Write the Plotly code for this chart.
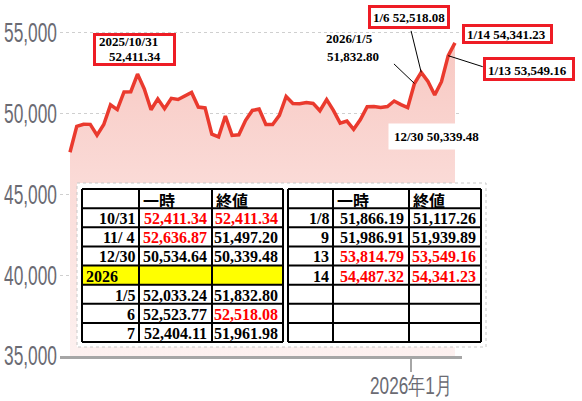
import plotly.graph_objects as go

# ---------------- data ----------------
dates = [
    "2025-10-17", "2025-10-20", "2025-10-21", "2025-10-22", "2025-10-23", "2025-10-24",
    "2025-10-27", "2025-10-28", "2025-10-29", "2025-10-30", "2025-10-31",
    "2025-11-04", "2025-11-05", "2025-11-06", "2025-11-07", "2025-11-10", "2025-11-11",
    "2025-11-12", "2025-11-13", "2025-11-14", "2025-11-17", "2025-11-18", "2025-11-19",
    "2025-11-20", "2025-11-21", "2025-11-25", "2025-11-26", "2025-11-27", "2025-11-28",
    "2025-12-01", "2025-12-02", "2025-12-03", "2025-12-04", "2025-12-05", "2025-12-08",
    "2025-12-09", "2025-12-10", "2025-12-11", "2025-12-12", "2025-12-15", "2025-12-16",
    "2025-12-17", "2025-12-18", "2025-12-19", "2025-12-22", "2025-12-23", "2025-12-24",
    "2025-12-25", "2025-12-26", "2025-12-29", "2025-12-30",
    "2026-01-05", "2026-01-06", "2026-01-07", "2026-01-08", "2026-01-09", "2026-01-13",
    "2026-01-14",
]
closes = [
    47582, 49185, 49316, 49307, 48641, 49299,
    50512, 50219, 51307, 51325, 52411.34,
    51497.20, 50212, 50883, 50276, 50911, 50842,
    51063, 51281, 50376, 50323, 48702, 48537,
    49823, 48625, 48659, 49559, 50167, 50253,
    49303, 49303, 49864, 51028, 50600, 50581,
    50655, 50602, 50148, 50836, 50168, 49383,
    49512, 49001, 49600, 50402, 50412, 50344,
    50407, 50750, 50526, 50339.48,
    51832.80, 52518.08, 51961.98, 51117.26, 51939.89, 53549.16,
    54341.23,
]
y_tick_vals = [35000, 40000, 45000, 50000, 55000]
y_tick_text = ["35,000", "40,000", "45,000", "50,000", "55,000"]
x_tick_date = "2026-01-05"
x_tick_text = ["2026年1月"]

# callouts
boxed_labels = ["1/6 52,518.08", "1/14 54,341.23", "1/13 53,549.16"]
peak_label = ["2025/10/31", "52,411.34"]
jan5_label = ["2026/1/5", "51,832.80"]
dec30_label = "12/30 50,339.48"

# tables
table_header = ["", "一時", "終値"]
left_dates = ["10/31", "11/ 4", "12/30", "2026", "1/5", "6", "7"]
left_high = ["52,411.34", "52,636.87", "50,534.64", "", "52,033.24", "52,523.77", "52,404.11"]
left_close = ["52,411.34", "51,497.20", "50,339.48", "", "51,832.80", "52,518.08", "51,961.98"]
left_high_red = [1, 1, 0, 0, 0, 0, 0]
left_close_red = [1, 0, 0, 0, 0, 1, 0]
right_dates = ["1/8", "9", "13", "14", "", "", ""]
right_high = ["51,866.19", "51,986.91", "53,814.79", "54,487.32", "", "", ""]
right_close = ["51,117.26", "51,939.89", "53,549.16", "54,341.23", "", "", ""]
right_high_red = [0, 0, 1, 1, 0, 0, 0]
right_close_red = [0, 0, 1, 1, 0, 0, 0]

# ---------------- layout geometry (pixels) ----------------
W, H = 582, 401
L, R, T, B = 60, 462, 16, 356
Y0, Y1 = 35000, 56000
n = len(dates)
xs = list(range(n))
X0, X1 = -1.48, 58.04


def pxx(p):
    return (p - L) / (R - L)


def pxy(p):
    return (B - p) / (B - T)


fig = go.Figure()
fig.add_trace(go.Scatter(
    x=xs, y=closes, mode="lines", text=dates,
    line=dict(color="#ea3a2e", width=3.5),
    fill="tozeroy",
    fillgradient=dict(type="vertical", start=Y0, stop=54500,
                      colorscale=[[0, "#fdf1f0"], [1, "#f8c8c2"]]),
    hovertemplate="%{text}<br>%{y:,.2f}<extra></extra>",
    showlegend=False,
))

shapes = []
annotations = []

SERIF = "Liberation Serif, Times New Roman, serif"


def txt(s, x, y, size=13, color="black", xanchor="center", **kw):
    annotations.append(dict(
        text=s, x=pxx(x), y=pxy(y), xref="paper", yref="paper",
        xanchor=xanchor, yanchor="middle", showarrow=False,
        font=dict(family=SERIF, size=size, color=color, weight="bold"), **kw))


def rect(x0, y0, x1, y1, **kw):
    shapes.append(dict(type="rect", xref="paper", yref="paper",
                       x0=pxx(x0), x1=pxx(x1), y0=pxy(y0), y1=pxy(y1),
                       layer="above", **kw))


def seg(x0, y0, x1, y1, color="black", width=2):
    shapes.append(dict(type="line", xref="paper", yref="paper",
                       x0=pxx(x0), x1=pxx(x1), y0=pxy(y0), y1=pxy(y1),
                       layer="above", line=dict(color=color, width=width)))


# connector lines to data points
def connector(date, ax, ay):
    i = dates.index(date)
    annotations.append(dict(x=xs[i], y=closes[i], xref="x", yref="y", text="",
                            showarrow=True, arrowhead=0, arrowwidth=1,
                            arrowcolor="black", ax=ax, ay=ay, standoff=0))


connector("2026-01-06", -10.5, -43)
connector("2026-01-13", 36, 11.5)
connector("2026-01-05", -22, -21)

# callout boxes
RED = "#ee1c25"
rect(94.5, 34.5, 174.5, 64.5, line=dict(color=RED, width=3), fillcolor="white")
txt(peak_label[0], 128.7, 42)
txt(peak_label[1], 134.5, 56)
rect(369.5, 6.5, 448.5, 27.5, line=dict(color=RED, width=3), fillcolor="white")
txt(boxed_labels[0], 409, 18)
rect(463.5, 25.5, 551.5, 42.5, line=dict(color=RED, width=3), fillcolor="white")
txt(boxed_labels[1], 506, 34.5)
rect(484.5, 58.5, 573.5, 79.5, line=dict(color=RED, width=3), fillcolor="white")
txt(boxed_labels[2], 527, 70)
txt(jan5_label[0], 349.5, 38.5)
txt(jan5_label[1], 353, 56)
txt(dec30_label, 436, 136.5, bgcolor="white", borderpad=5)

# tables
rect(77, 183, 486, 347, line=dict(color="#c8c8c8", width=1, dash="dot"), fillcolor="white")
row_top, row_bot, nrows = 189, 342, 8
rh = (row_bot - row_top) / nrows
rect(82, row_top + 4 * rh, 283, row_top + 5 * rh, line=dict(width=0), fillcolor="#ffff00")


def draw_table(cols, dcol, hcol, ccol, hred, cred):
    for c in cols:
        seg(c, row_top, c, row_bot)
    for r in range(nrows + 1):
        seg(cols[0], row_top + r * rh, cols[-1], row_top + r * rh)
    yh = row_top + rh / 2 + 1
    for k in (1, 2):
        annotations.append(dict(text=table_header[k], x=pxx(cols[k] + 2), y=pxy(yh),
                                xref="paper", yref="paper", xanchor="left", yanchor="middle",
                                showarrow=False,
                                font=dict(family="Noto Sans CJK JP", size=16, color="black",
                                          weight="bold")))
    for r in range(nrows - 1):
        yc = row_top + (r + 1.5) * rh + 1
        d = dcol[r]
        if d == "2026":
            txt(d, cols[0] + 2, yc, size=16, xanchor="left")
        elif d:
            txt(d, cols[1] - 2, yc, size=16, xanchor="right")
        if hcol[r]:
            txt(hcol[r], cols[2] - 3, yc, size=16, xanchor="right",
                color="#ff0000" if hred[r] else "black")
        if ccol[r]:
            txt(ccol[r], cols[3] - 3, yc, size=16, xanchor="right",
                color="#ff0000" if cred[r] else "black")


draw_table([82, 139, 212, 283], left_dates, left_high, left_close, left_high_red, left_close_red)
draw_table([288, 333, 409, 481], right_dates, right_high, right_close, right_high_red, right_close_red)

AXFONT = "Liberation Sans, Arial, sans-serif"
tick_idx = dates.index(x_tick_date) - 0.5

fig.update_layout(
    width=W, height=H,
    margin=dict(l=L, r=W - R, t=T, b=H - B, autoexpand=False),
    paper_bgcolor="white", plot_bgcolor="white",
    shapes=shapes, annotations=annotations,
    xaxis=dict(range=[X0, X1], showgrid=False, zeroline=False, automargin=False,
               showline=True, linecolor="#a6a6a6", linewidth=3,
               tickvals=[tick_idx], ticktext=x_tick_text,
               ticks="outside", ticklen=13, tickwidth=2, tickcolor="#a6a6a6",
               ticklabelstandoff=-7,
               tickfont=dict(family=AXFONT, size=24, color="#6b6b73")),
    yaxis=dict(range=[Y0, Y1], tickvals=y_tick_vals, ticktext=y_tick_text,
               showgrid=True, gridcolor="#cfcfcf", gridwidth=1, griddash="dot",
               zeroline=False, showline=False, ticks="", automargin=False,
               ticklabelstandoff=2,
               tickfont=dict(family=AXFONT, size=27, color="#6b6b73")),
)

# remove the page margin and condense the axis tick labels horizontally
post = """
document.body.style.margin = '0';
document.body.style.overflow = 'hidden';
var gd = document.getElementById('{plot_id}');
gd.querySelectorAll('.ytick text').forEach(function(t){
  t.setAttribute('textLength', '53'); t.setAttribute('lengthAdjust', 'spacingAndGlyphs');
});
gd.querySelectorAll('.xtick text').forEach(function(t){
  t.setAttribute('textLength', '82'); t.setAttribute('lengthAdjust', 'spacingAndGlyphs');
});
"""

fig.write_html("out.html", post_script=post, config={"displayModeBar": False})
